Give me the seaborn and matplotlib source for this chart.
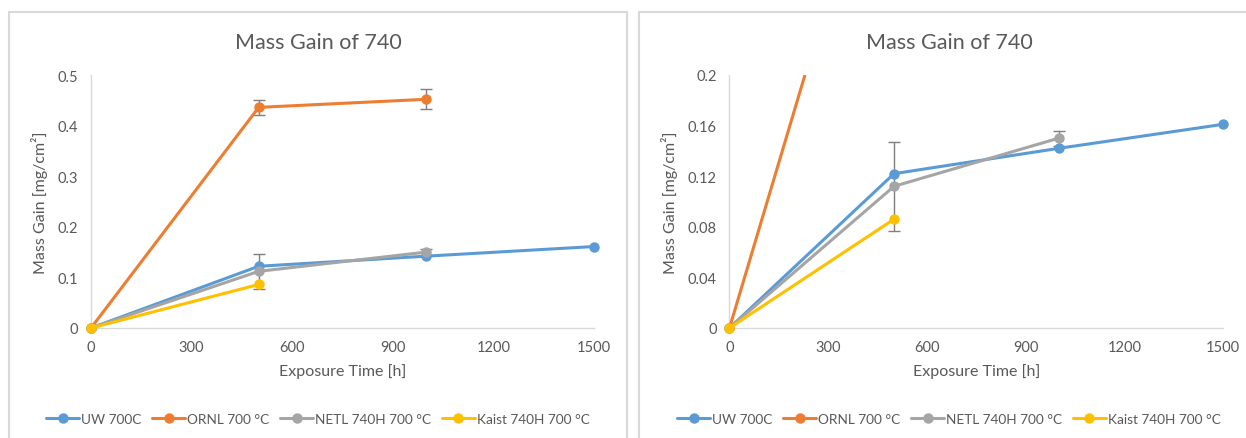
import numpy as np
import pandas as pd
import seaborn as sns
import matplotlib
matplotlib.use("Agg")
import matplotlib.pyplot as plt
from matplotlib.lines import Line2D
from matplotlib.patches import Rectangle
from matplotlib.ticker import FuncFormatter

# ---- data ---------------------------------------------------------------
series_names = ["UW 700C", "ORNL 700 °C", "NETL 740H 700 °C", "Kaist 740H 700 °C"]
series_colors = ["#5B9BD5", "#ED7D31", "#A5A5A5", "#FFC000"]

uw_time = [0, 500, 1000, 1500]
uw_gain = [0.0, 0.122, 0.142, 0.161]

ornl_time = [0, 500, 1000]
ornl_gain = [0.0, 0.436, 0.452]
ornl_err = [0.0, 0.015, 0.020]

netl_time = [0, 500, 1000]
netl_gain = [0.0, 0.112, 0.150]
netl_err = [0.0, 0.035, 0.006]

kaist_time = [0, 500]
kaist_gain = [0.0, 0.086]

x_ticks = [0, 300, 600, 900, 1200, 1500]
y_ticks_full = [0, 0.1, 0.2, 0.3, 0.4, 0.5]
y_ticks_zoom = [0, 0.04, 0.08, 0.12, 0.16, 0.2]

title_text = "Mass Gain of 740"
x_label = "Exposure Time [h]"
y_label = "Mass Gain [mg/cm²]"

frames = []
for name, t, g in zip(series_names,
                      [uw_time, ornl_time, netl_time, kaist_time],
                      [uw_gain, ornl_gain, netl_gain, kaist_gain]):
    frames.append(pd.DataFrame({"time": t, "gain": g, "series": name}))
df = pd.concat(frames, ignore_index=True)

errors = {
    "ORNL 700 °C": (ornl_time, ornl_gain, ornl_err),
    "NETL 740H 700 °C": (netl_time, netl_gain, netl_err),
}

# ---- style --------------------------------------------------------------
sns.set_theme(style="white")
plt.rcParams["font.family"] = ["Lato", "DejaVu Sans"]
TEXT = "#595959"
AXIS = "#D9D9D9"
palette = dict(zip(series_names, series_colors))

W, H = 1246, 439
fig = plt.figure(figsize=(W / 100, H / 100), dpi=100)


def px_axes(x0, x1, y_top, y_bot):
    return [x0 / W, (H - y_bot) / H, (x1 - x0) / W, (y_bot - y_top) / H]


def draw_panel(ax, yticks, ymax, clip_series, panel_center):
    sns.lineplot(data=df, x="time", y="gain", hue="series",
                 hue_order=series_names, palette=palette, sort=False,
                 estimator=None, errorbar=None, marker="o", markersize=7.5,
                 markeredgewidth=0, linewidth=2.2, legend=False, ax=ax)
    for name, line in zip(series_names, ax.get_lines()):
        line.set_zorder(3 + series_names.index(name) * 0.1)
        line.set_clip_on(name in clip_series)
    for name, (t, g, e) in errors.items():
        ax.errorbar(t[1:], g[1:], yerr=e[1:], fmt="none", ecolor="#7F7F7F",
                    elinewidth=1.0, capsize=4, capthick=1.0, zorder=2)

    ax.set_xlim(0, 1500)
    ax.set_ylim(0, ymax)
    ax.set_xticks(x_ticks)
    ax.set_yticks(yticks)
    ax.yaxis.set_major_formatter(FuncFormatter(lambda v, p: f"{v:g}"))
    ax.tick_params(axis="both", direction="out", length=4, width=1,
                   color=AXIS, labelcolor=TEXT, labelsize=10.5, pad=5)
    for side in ["top", "right"]:
        ax.spines[side].set_visible(False)
    for side in ["left", "bottom"]:
        ax.spines[side].set_color(AXIS)
        ax.spines[side].set_linewidth(1)
    ax.set_xlabel(x_label, color=TEXT, fontsize=11.5, labelpad=6)
    ax.set_ylabel(y_label, color=TEXT, fontsize=11.5, labelpad=7)
    ax.set_facecolor("none")

    fig.text(panel_center / W, (H - 43) / H, title_text, ha="center",
             va="center", fontsize=15.5, color=TEXT)

    handles = [Line2D([0], [0], color=c, lw=2.2, marker="o", markersize=7.5,
                      markeredgewidth=0) for c in series_colors]
    fig.legend(handles, series_names, loc="center",
               bbox_to_anchor=(panel_center / W, (H - 420) / H), ncol=4,
               frameon=False, fontsize=9.8, labelcolor=TEXT, handlelength=2.4,
               handletextpad=0.15, columnspacing=0.8, numpoints=1)


# panel frames
fig.patches.append(Rectangle((9 / W, -0.1), (627 - 9) / W, (H - 13) / H + 0.1,
                             transform=fig.transFigure, fill=False,
                             edgecolor=AXIS, lw=1.5, zorder=0))
fig.patches.append(Rectangle((639 / W, -0.1), 0.6, (H - 13) / H + 0.1,
                             transform=fig.transFigure, fill=False,
                             edgecolor=AXIS, lw=1.5, zorder=0))

ax1 = fig.add_axes(px_axes(91, 594, 76, 329))
draw_panel(ax1, y_ticks_full, 0.5, clip_series=[], panel_center=318)

ax2 = fig.add_axes(px_axes(729.5, 1223, 76, 329))
draw_panel(ax2, y_ticks_zoom, 0.2, clip_series=["ORNL 700 °C"], panel_center=949)

fig.savefig("out.png", dpi=100)
